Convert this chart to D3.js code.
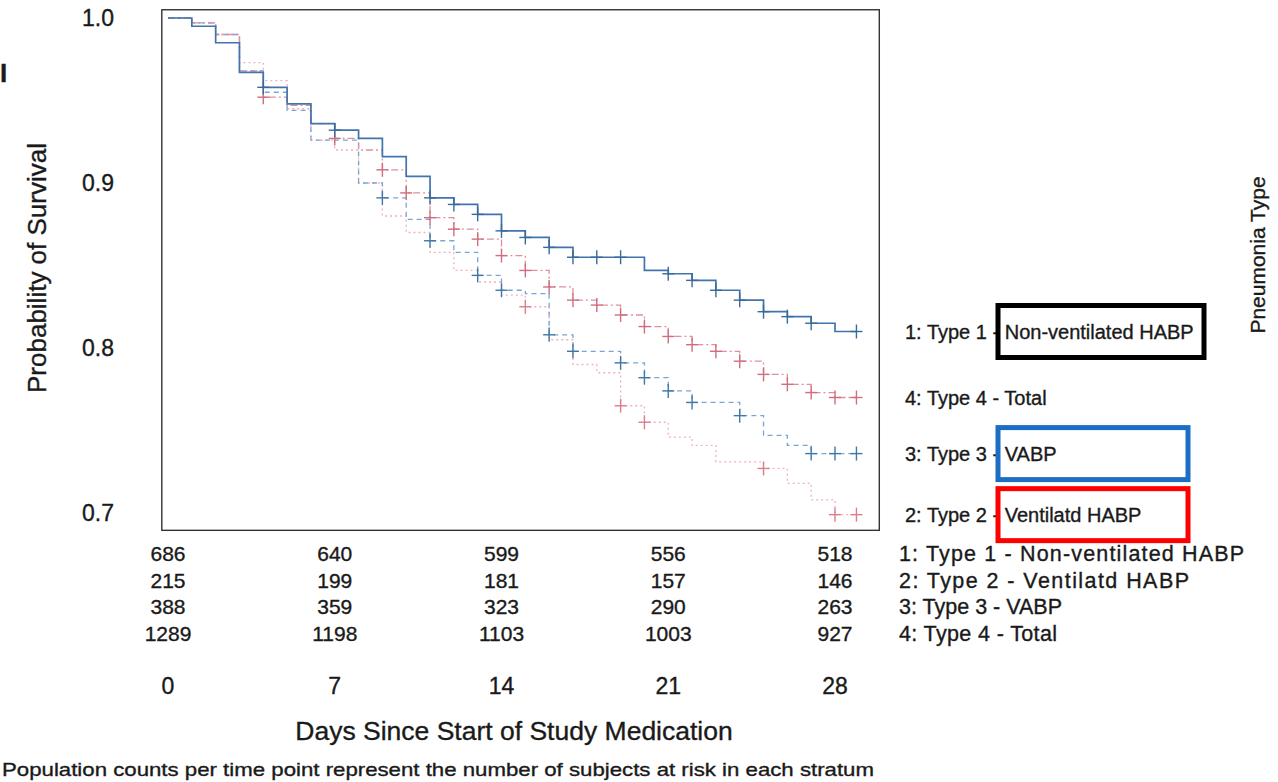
<!DOCTYPE html>
<html>
<head>
<meta charset="utf-8">
<script src="https://cdn.jsdelivr.net/npm/d3@7/dist/d3.min.js"></script>
<style>
    body { margin: 0; background: #fff; }
    text { font-family: 'Liberation Sans', Arial, sans-serif; fill: #1a1a1a; stroke: #1a1a1a; stroke-width: 0.35px; }
</style>
</head>
<body>
<svg id="km-chart" width="1278" height="782"></svg>
<script>
// days 0..28, survival estimate at each day (step after)
const days = d3.range(0, 29);
const endDay = 28.9;

const type1 = [1.000, 0.995, 0.985, 0.967, 0.958, 0.948, 0.936, 0.932, 0.927, 0.916, 0.904, 0.891, 0.887, 0.881, 0.871,
    0.867, 0.861, 0.855, 0.855, 0.855, 0.847, 0.845, 0.841, 0.835, 0.829, 0.822, 0.819, 0.815, 0.810];
const type2 = [1.000, 0.997, 0.990, 0.973, 0.962, 0.945, 0.926, 0.920, 0.900, 0.880, 0.870, 0.858, 0.847, 0.840, 0.832,
    0.825, 0.805, 0.790, 0.785, 0.765, 0.755, 0.746, 0.741, 0.731, 0.731, 0.727, 0.718, 0.708, 0.699];
const type3 = [1.000, 0.997, 0.990, 0.968, 0.955, 0.944, 0.926, 0.926, 0.900, 0.891, 0.878, 0.865, 0.858, 0.844, 0.835,
    0.833, 0.808, 0.798, 0.798, 0.791, 0.782, 0.774, 0.767, 0.767, 0.759, 0.747, 0.741, 0.736, 0.736];
const type4 = [1.000, 0.997, 0.990, 0.968, 0.952, 0.947, 0.936, 0.927, 0.920, 0.908, 0.894, 0.879, 0.872, 0.866, 0.856,
    0.847, 0.837, 0.829, 0.826, 0.820, 0.813, 0.807, 0.802, 0.798, 0.792, 0.784, 0.778, 0.773, 0.770];

// censoring marks (days)
const censor1 = [4, 7, 11, 12, 13, 14, 15, 16, 17, 18, 19, 21, 22, 23, 24, 25, 26, 27, 28.9];
const censor2 = [15, 19, 20, 25, 28, 28.9];
const censor3 = [9, 11, 13, 14, 16, 17, 19, 20, 21, 22, 24, 27, 28, 28.9];
const censor4 = [4, 7, 9, 10, 11, 12, 13, 14, 15, 16, 17, 18, 19, 20, 21, 22, 23, 24, 25, 26, 27, 28, 28.9];

const xTicks = [0, 7, 14, 21, 28];
const yTicks = [0.7, 0.8, 0.9, 1.0];

const riskLabels = ['1: Type 1 - Non-ventilated HABP', '2: Type 2 - Ventilatd HABP', '3: Type 3 - VABP', '4: Type 4 - Total'];
const risk1 = [686, 640, 599, 556, 518];
const risk2 = [215, 199, 181, 157, 146];
const risk3 = [388, 359, 323, 290, 263];
const risk4 = [1289, 1198, 1103, 1003, 927];

// printed widths of the risk-table labels (the scan is a little stretched)
const riskLabelWidths = [345, 290, 163, 158];

const svgTag = d3.select('#km-chart');

const x = d3.scaleLinear().domain([0, 28]).range([168, 835]);
const y = d3.scaleLinear().domain([0.7, 1.0]).range([513, 18]);

const series = [
    {values: type1, censor: censor1, line: '#4174ad', mark: '#3a6a9a', width: 1.7, dash: null},
    {values: type2, censor: censor2, line: '#f3b0bd', mark: '#dc7d8e', width: 1.3, dash: '2,3'},
    {values: type3, censor: censor3, line: '#79a6d2', mark: '#3f78a6', width: 1.3, dash: '5,4'},
    {values: type4, censor: censor4, line: '#df909d', mark: '#d06e7f', width: 1.3, dash: '7,3,2,3'}
];

function valueAt(values, day) {
    return values[Math.min(Math.floor(day), values.length - 1)];
}

function drawFrame() {
    svgTag.append('rect')
        .attr('x', x(-0.26)).attr('y', y(1.005))
        .attr('width', x(29.86) - x(-0.26))
        .attr('height', y(0.6895) - y(1.005))
        .attr('fill', 'none')
        .attr('stroke', '#333')
        .attr('stroke-width', 1.4);
}

function drawCurves() {
    const line = d3.line()
        .x((d) => x(d[0]))
        .y((d) => y(d[1]))
        .curve(d3.curveStepAfter);

    // draw bottom curves first so the solid one stays on top
    [1, 2, 3, 0].forEach((i) => {
        const s = series[i];
        const pts = days.map((d) => [d, s.values[d]]);
        pts.push([endDay, s.values[s.values.length - 1]]);
        svgTag.append('path')
            .attr('d', line(pts))
            .attr('fill', 'none')
            .attr('stroke', s.line)
            .attr('stroke-width', s.width)
            .attr('stroke-dasharray', s.dash);

        const g = svgTag.append('g').attr('stroke', s.mark).attr('stroke-width', 1.4);
        s.censor.forEach((c) => {
            const cx = x(c), cy = y(valueAt(s.values, c));
            g.append('line').attr('x1', cx - 6).attr('x2', cx + 6).attr('y1', cy).attr('y2', cy);
            g.append('line').attr('x1', cx).attr('x2', cx).attr('y1', cy - 7).attr('y2', cy + 7);
        });
    });
}

function drawAxes() {
    svgTag.append('g').selectAll('text')
        .data(yTicks).enter().append('text')
        .attr('x', 114).attr('y', (d) => y(d) + 8)
        .attr('text-anchor', 'end')
        .style('font-size', '23px')
        .text((d) => d.toFixed(1));

    svgTag.append('g').selectAll('text')
        .data(xTicks).enter().append('text')
        .attr('x', (d) => x(d)).attr('y', 694)
        .attr('text-anchor', 'middle')
        .style('font-size', '23px')
        .text((d) => d);

    svgTag.append('text')
        .attr('transform', `translate(46, 268) rotate(-90)`)
        .attr('text-anchor', 'middle')
        .style('font-size', '26px')
        .text('Probability of Survival');

    svgTag.append('text')
        .attr('x', 514).attr('y', 740)
        .attr('text-anchor', 'middle')
        .style('font-size', '26.5px')
        .text('Days Since Start of Study Medication');
}

function drawRiskTable() {
    const rows = [risk1, risk2, risk3, risk4];
    rows.forEach((row, i) => {
        const ty = 561 + i * 26.5;
        svgTag.append('g').selectAll('text')
            .data(row).enter().append('text')
            .attr('x', (d, j) => x(xTicks[j]))
            .attr('y', ty)
            .attr('text-anchor', 'middle')
            .style('font-size', '21px')
            .text((d) => d);
        svgTag.append('text')
            .attr('x', 899).attr('y', ty)
            .attr('textLength', riskLabelWidths[i])
            .attr('lengthAdjust', 'spacing')
            .style('font-size', '21.5px')
            .text(riskLabels[i]);
    });
}

function drawLegend() {
    // curve-end labels, in the order the curves end from top to bottom
    const order = [0, 3, 2, 1];
    const boxes = {0: {color: '#000', w: 206}, 2: {color: '#1a6fc4', w: 190}, 1: {color: '#ff0000', w: 190}};
    order.forEach((i) => {
        const s = series[i];
        const ty = y(s.values[s.values.length - 1]);
        svgTag.append('text')
            .attr('x', 905).attr('y', ty + 7.5)
            .style('font-size', '20px')
            .text(riskLabels[i]);
        if (boxes[i]) {
            svgTag.append('rect')
                .attr('x', 998).attr('y', ty - 26)
                .attr('width', boxes[i].w).attr('height', 52)
                .attr('fill', 'none')
                .attr('stroke', boxes[i].color)
                .attr('stroke-width', 5);
        }
    });

    svgTag.append('text')
        .attr('transform', 'translate(1265, 255) rotate(-90)')
        .attr('text-anchor', 'middle')
        .style('font-size', '21px')
        .text('Pneumonia Type');
}

function drawNotes() {
    svgTag.append('text')
        .attr('x', 0).attr('y', 82)
        .style('font-size', '26px')
        .style('font-weight', 'bold')
        .text('I');

    svgTag.append('text')
        .attr('x', 2).attr('y', 776)
        .attr('textLength', 872)
        .attr('lengthAdjust', 'spacingAndGlyphs')
        .style('font-family', "'Liberation Sans Narrow', 'Liberation Sans', sans-serif")
        .style('font-size', '19px')
        .text('Population counts per time point represent the number of subjects at risk in each stratum');
}

function draw() {
    svgTag.selectAll('*').remove();
    drawFrame();
    drawCurves();
    drawAxes();
    drawRiskTable();
    drawLegend();
    drawNotes();
}

draw();
</script>
</body>
</html>
